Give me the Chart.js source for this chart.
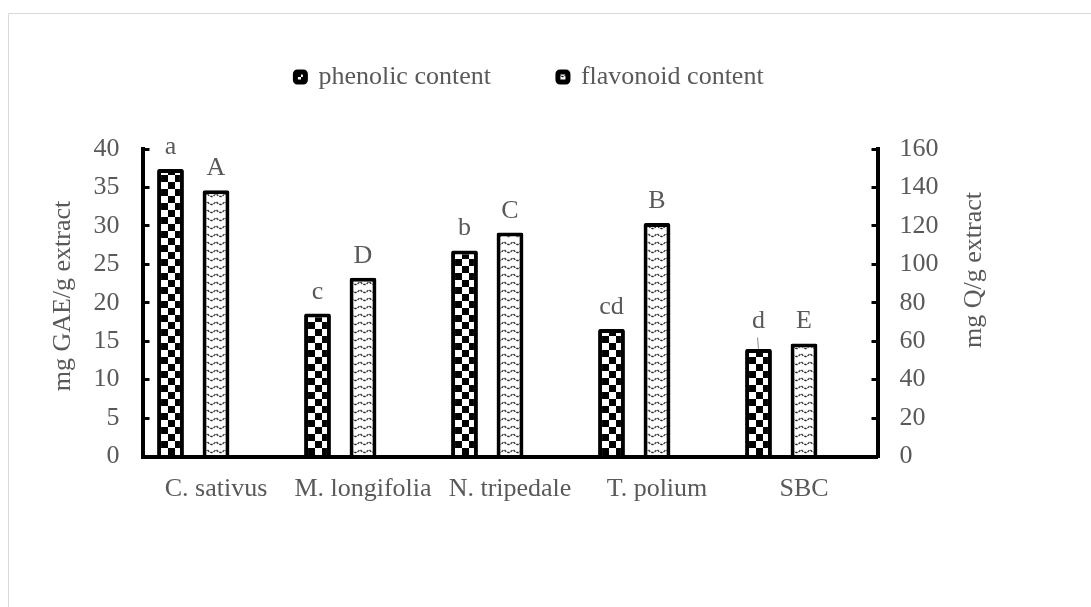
<!DOCTYPE html>
<html>
<head>
<meta charset="utf-8">
<script src="https://cdn.jsdelivr.net/npm/chart.js@4.4.1/dist/chart.umd.min.js"></script>
<style>
  html, body { margin: 0; padding: 0; background: #ffffff; }
  #c { display: block; }
</style>
</head>
<body>
<canvas id="c" width="1091" height="607"></canvas>
<script>
// ---------- data ----------
const categories = ['C. sativus', 'M. longifolia', 'N. tripedale', 'T. polium', 'SBC'];
const phenolic = [37.4, 18.6, 26.8, 16.6, 14.0];          // mg GAE/g extract (left axis)
const flavonoid = [138.5, 93.0, 116.5, 121.5, 58.8];      // mg Q/g extract (right axis)
const phenolicLetters = ['a', 'c', 'b', 'cd', 'd'];
const flavonoidLetters = ['A', 'D', 'C', 'B', 'E'];
const leftAxisTicks = [0, 5, 10, 15, 20, 25, 30, 35, 40];
const rightAxisTicks = [0, 20, 40, 60, 80, 100, 120, 140, 160];
const seriesNames = ['phenolic content', 'flavonoid content'];
const axisTitles = ['mg GAE/g extract', 'mg Q/g extract'];

// ---------- styles ----------
const FONT = '"Liberation Serif", "Times New Roman", serif';
const TEXT = '#595959';

function checkerPattern() {
  const c = document.createElement('canvas');
  c.width = 14; c.height = 14;
  const g = c.getContext('2d');
  g.fillStyle = '#ffffff'; g.fillRect(0, 0, 14, 14);
  g.fillStyle = '#000000';
  g.fillRect(0, 0, 7, 7); g.fillRect(7, 7, 7, 7);
  return g.createPattern(c, 'repeat');
}
function wavePattern() {
  const c = document.createElement('canvas');
  c.width = 9; c.height = 8;
  const g = c.getContext('2d');
  g.fillStyle = '#ffffff'; g.fillRect(0, 0, 9, 8);
  g.strokeStyle = '#262626'; g.lineWidth = 1.3;
  g.setLineDash([2.5, 1]);
  g.beginPath(); g.moveTo(0.5, 2); g.quadraticCurveTo(4.5, 7, 8.5, 2); g.stroke();
  return g.createPattern(c, 'repeat');
}

Chart.defaults.font.family = FONT;
Chart.defaults.font.size = 26;
Chart.defaults.color = TEXT;

// empty layout box that keeps a gap between the legend and the plot area
function makeGapBox(h) {
  return {
    position: 'top', weight: 0, fullSize: false,
    options: { stackWeight: 1 },
    top: 0, left: 0, right: 0, bottom: 0, width: 0, height: 0,
    isHorizontal() { return true; },
    update(maxWidth) { this.width = maxWidth; this.height = h; return { width: maxWidth, height: h }; },
    draw() {}
  };
}

const annotate = {
  id: 'annotate',
  beforeInit(chart) {
    Chart.layouts.addBox(chart, makeGapBox(chart.options.plugins.annotate.legendGap));
  },
  beforeDraw(chart) {
    const ctx = chart.ctx;
    ctx.save();
    ctx.fillStyle = '#ffffff';
    ctx.fillRect(0, 0, chart.width, chart.height);
    ctx.strokeStyle = '#d9d9d9';
    ctx.lineWidth = 1;
    ctx.beginPath();
    ctx.moveTo(8.5, chart.height);
    ctx.lineTo(8.5, 13.5);
    ctx.lineTo(chart.width, 13.5);
    ctx.stroke();
    ctx.restore();
  },
  afterDatasetsDraw(chart) {
    const ctx = chart.ctx;
    const pm = chart.getDatasetMeta(0).data;
    const fm = chart.getDatasetMeta(1).data;
    ctx.save();
    ctx.font = '26px ' + FONT;
    ctx.fillStyle = TEXT;
    ctx.textAlign = 'center';
    ctx.textBaseline = 'alphabetic';
    categories.forEach((cat, i) => {
      const p = pm[i], f = fm[i];
      const fy = f.y - 15;
      let py = p.y - 15;
      ctx.fillText(flavonoidLetters[i], f.x, fy);
      if (Math.abs(p.y - f.y) < 10) {
        py = Math.min(py, fy);
        ctx.save();
        ctx.strokeStyle = '#8c8c8c';
        ctx.lineWidth = 1;
        ctx.beginPath();
        ctx.moveTo(p.x - 1, py + 9);
        ctx.lineTo(p.x, p.y);
        ctx.stroke();
        ctx.restore();
      }
      ctx.fillText(phenolicLetters[i], p.x, py);
    });
    ctx.restore();
  },
  afterDraw(chart) {
    const ctx = chart.ctx;
    const o = chart.options.plugins.annotate;
    const titles = [[axisTitles[0], o.leftTitleX, o.leftTitleY], [axisTitles[1], o.rightTitleX, o.rightTitleY]];
    titles.forEach(([t, x, y]) => {
      ctx.save();
      ctx.font = '26px ' + FONT;
      ctx.fillStyle = TEXT;
      ctx.textAlign = 'center';
      ctx.textBaseline = 'middle';
      ctx.translate(x, y);
      ctx.rotate(-Math.PI / 2);
      ctx.fillText(t, 0, 0);
      ctx.restore();
    });
  }
};

const axisGrid = { drawOnChartArea: false, drawTicks: true, color: '#000000', lineWidth: 3 };
const axisBorder = { display: true, color: '#000000', width: 4, z: 1 };

new Chart(document.getElementById('c'), {
  type: 'bar',
  data: {
    labels: categories,
    datasets: [
      {
        label: seriesNames[0],
        data: phenolic,
        yAxisID: 'y',
        backgroundColor: checkerPattern(),
        borderColor: '#000000',
        borderWidth: 4,
        borderRadius: 2,
        categoryPercentage: 0.9286,
        barPercentage: 0.59,
        skipNull: false
      },
      {
        label: seriesNames[1],
        data: flavonoid,
        yAxisID: 'y1',
        backgroundColor: wavePattern(),
        borderColor: '#000000',
        borderWidth: 4,
        borderRadius: 2,
        categoryPercentage: 0.9286,
        barPercentage: 0.59,
        skipNull: false
      },
      {
        label: '',
        data: categories.map(() => null),
        yAxisID: 'y',
        backgroundColor: 'rgba(0,0,0,0)',
        borderWidth: 0,
        categoryPercentage: 0.9286,
        barPercentage: 0.59,
        skipNull: false
      }
    ]
  },
  options: {
    responsive: false,
    animation: false,
    devicePixelRatio: 1,
    layout: { padding: { top: -3, left: 0, right: 32, bottom: 0 } },
    plugins: {
      tooltip: { enabled: false },
      title: { display: false },
      legend: {
        display: true,
        position: 'top',
        align: 'center',
        labels: {
          font: { size: 26, family: FONT },
          color: TEXT,
          boxWidth: 10,
          boxHeight: 10,
          padding: 67,
          useBorderRadius: true,
          borderRadius: 2,
          filter: (item) => item.text !== '',
          generateLabels(chart) {
            const items = Chart.defaults.plugins.legend.labels.generateLabels(chart);
            items.forEach((it) => { it.lineWidth = 5; });
            return items;
          }
        }
      },
      annotate: { legendGap: 49, leftTitleX: 63, leftTitleY: 296, rightTitleX: 974, rightTitleY: 270 }
    },
    scales: {
      x: {
        type: 'category',
        grid: { display: false, drawOnChartArea: false, drawTicks: false },
        border: { display: true, color: '#000000', width: 4, z: 1 },
        ticks: { padding: 17, maxRotation: 0, autoSkip: false, color: TEXT, font: { size: 26, family: FONT } },
        afterFit(s) { s.height = 150.5; }
      },
      y: {
        position: 'left',
        min: leftAxisTicks[0],
        max: leftAxisTicks[leftAxisTicks.length - 1],
        ticks: { stepSize: leftAxisTicks[1] - leftAxisTicks[0], padding: 30, color: TEXT, font: { size: 26, family: FONT } },
        grid: Object.assign({}, axisGrid, { tickLength: -7 }),
        border: axisBorder,
        afterFit(s) { s.width = 142.5; }
      },
      y1: {
        position: 'right',
        min: rightAxisTicks[0],
        max: rightAxisTicks[rightAxisTicks.length - 1],
        ticks: { stepSize: rightAxisTicks[1] - rightAxisTicks[0], padding: 28, color: TEXT, font: { size: 26, family: FONT } },
        grid: Object.assign({}, axisGrid, { tickLength: -6 }),
        border: axisBorder,
        afterFit(s) { s.width = 181.5; }
      }
    }
  },
  plugins: [annotate]
});
</script>
</body>
</html>
